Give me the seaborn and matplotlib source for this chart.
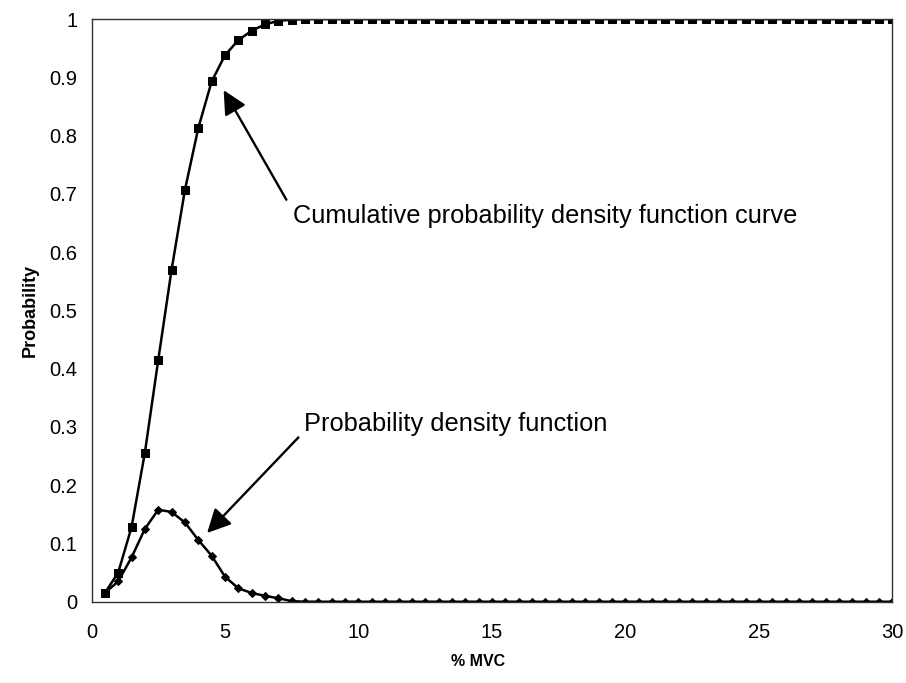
import pandas as pd
import seaborn as sns
import matplotlib.pyplot as plt

# values (x step 0.5 % MVC)
mvc = [0.5, 1.0, 1.5, 2.0, 2.5, 3.0, 3.5, 4.0, 4.5, 5.0,
       5.5, 6.0, 6.5, 7.0, 7.5, 8.0, 8.5, 9.0, 9.5, 10.0,
       10.5, 11.0, 11.5, 12.0, 12.5, 13.0, 13.5, 14.0, 14.5, 15.0,
       15.5, 16.0, 16.5, 17.0, 17.5, 18.0, 18.5, 19.0, 19.5, 20.0,
       20.5, 21.0, 21.5, 22.0, 22.5, 23.0, 23.5, 24.0, 24.5, 25.0,
       25.5, 26.0, 26.5, 27.0, 27.5, 28.0, 28.5, 29.0, 29.5, 30.0]

cdf = [0.015, 0.050, 0.128, 0.256, 0.415, 0.570, 0.707, 0.813, 0.893, 0.938,
       0.964, 0.980, 0.991, 0.997, 0.999, 1.0, 1.0, 1.0, 1.0, 1.0,
       1.0, 1.0, 1.0, 1.0, 1.0, 1.0, 1.0, 1.0, 1.0, 1.0,
       1.0, 1.0, 1.0, 1.0, 1.0, 1.0, 1.0, 1.0, 1.0, 1.0,
       1.0, 1.0, 1.0, 1.0, 1.0, 1.0, 1.0, 1.0, 1.0, 1.0,
       1.0, 1.0, 1.0, 1.0, 1.0, 1.0, 1.0, 1.0, 1.0, 1.0]

pdf = [0.015, 0.035, 0.076, 0.125, 0.158, 0.154, 0.136, 0.106, 0.079, 0.043,
       0.023, 0.015, 0.010, 0.006, 0.001, 0.0, 0.0, 0.0, 0.0, 0.0,
       0.0, 0.0, 0.0, 0.0, 0.0, 0.0, 0.0, 0.0, 0.0, 0.0,
       0.0, 0.0, 0.0, 0.0, 0.0, 0.0, 0.0, 0.0, 0.0, 0.0,
       0.0, 0.0, 0.0, 0.0, 0.0, 0.0, 0.0, 0.0, 0.0, 0.0,
       0.0, 0.0, 0.0, 0.0, 0.0, 0.0, 0.0, 0.0, 0.0, 0.0]

df = pd.DataFrame({"mvc": mvc, "cdf": cdf, "pdf": pdf})

sns.set_style("white")
plt.rcParams["font.family"] = ["Liberation Sans", "DejaVu Sans"]
plt.rcParams["text.color"] = "black"
plt.rcParams["axes.labelcolor"] = "black"
plt.rcParams["xtick.color"] = "black"
plt.rcParams["ytick.color"] = "black"

fig = plt.figure(figsize=(9.06, 6.83), dpi=100)
ax = fig.add_axes([0.101, 0.119, 0.884, 0.853])

sns.lineplot(data=df, x="mvc", y="cdf", ax=ax, color="black", linewidth=1.8,
             marker="s", markersize=5.5, markeredgecolor="black")
sns.lineplot(data=df, x="mvc", y="pdf", ax=ax, color="black", linewidth=1.8,
             marker="D", markersize=4.5, markeredgecolor="black")

ax.set_xlim(0, 30)
ax.set_ylim(0, 1)
ax.set_xticks([0, 5, 10, 15, 20, 25, 30])
ax.set_yticks([0, 0.1, 0.2, 0.3, 0.4, 0.5, 0.6, 0.7, 0.8, 0.9, 1])
ax.set_yticklabels(["0", "0.1", "0.2", "0.3", "0.4", "0.5", "0.6", "0.7", "0.8", "0.9", "1"])
ax.tick_params(axis="both", length=0, labelsize=14.5)
ax.tick_params(axis="y", pad=10)
ax.tick_params(axis="x", pad=15)

for s in ax.spines.values():
    s.set_color("#333333")
    s.set_linewidth(1.0)

ax.set_xlabel("% MVC", fontsize=11.5, fontweight="bold", labelpad=12)
ax.xaxis.set_label_coords(0.483, -0.09)
ax.set_ylabel("Probability", fontsize=13, fontweight="bold", labelpad=8)

arrow = dict(arrowstyle="-|>", color="black", lw=1.7, mutation_scale=36, shrinkA=0, shrinkB=0)
ax.annotate("", xy=(4.95, 0.878), xytext=(7.3, 0.69), arrowprops=arrow)
ax.text(7.55, 0.662, "Cumulative probability density function curve", fontsize=18.3,
        va="center", ha="left")

ax.annotate("", xy=(4.33, 0.118), xytext=(7.75, 0.282), arrowprops=arrow)
ax.text(7.95, 0.305, "Probability density function", fontsize=18.3,
        va="center", ha="left")

fig.savefig("out.png", dpi=100)
